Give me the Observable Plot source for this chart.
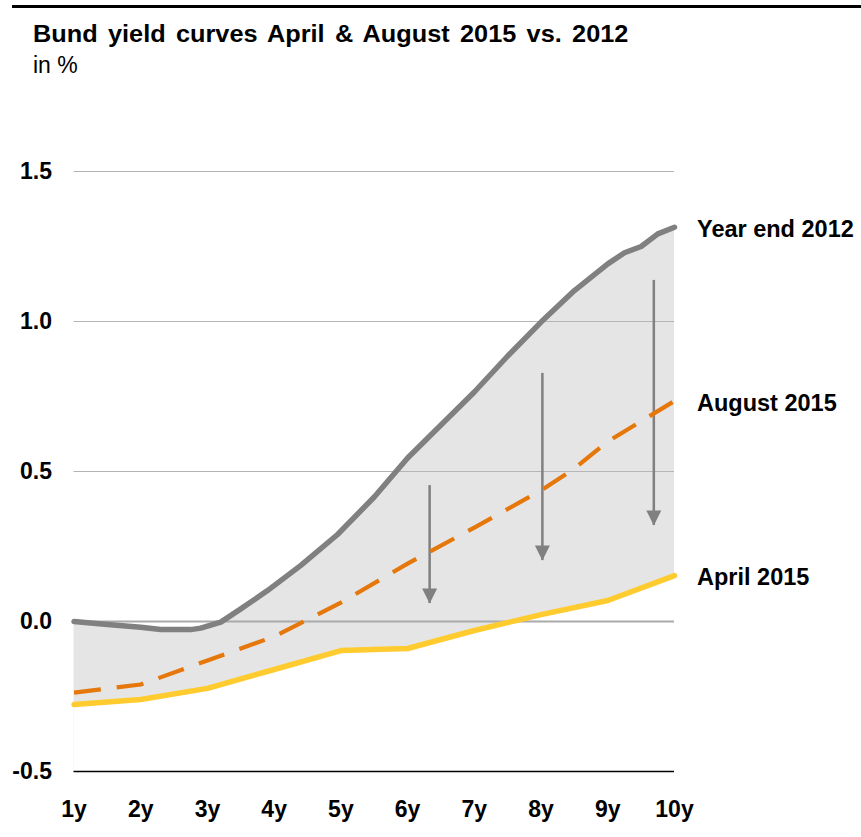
<!DOCTYPE html>
<html>
<head>
<meta charset="utf-8">
<script src="https://cdn.jsdelivr.net/npm/d3@7"></script>
<script src="https://cdn.jsdelivr.net/npm/@observablehq/plot@0.6"></script>
<style>
  body { margin: 0; background: #fff; font-family: "Liberation Sans", Arial, sans-serif; }
  #wrap { position: relative; width: 861px; height: 837px; overflow: hidden; background: #fff; }
  #rule { position: absolute; left: 12px; right: 0; top: 5px; height: 3px; background: #000; }
  #title { position: absolute; left: 33px; top: 23px; font-weight: bold; font-size: 23px; line-height: 23px;
           white-space: nowrap; transform: scaleX(1.1); transform-origin: 0 0; word-spacing: 3px; color: #000; }
  #sub { position: absolute; left: 33px; top: 54px; font-size: 23px; line-height: 23px; color: #000; }
  #chart { position: absolute; left: 0; top: 100px; }
</style>
</head>
<body>
<div id="wrap">
  <div id="rule"></div>
  <div id="title">Bund yield curves April &amp; August 2015 vs. 2012</div>
  <div id="sub">in %</div>
  <div id="chart"></div>
</div>
<script>
// ---- data (maturity in years, yield in %) ----
const maturities2012 = [1, 1.5, 2, 2.3, 2.75, 2.9, 3.2, 3.5, 3.9, 4.4, 4.95, 5.5, 6, 6.5, 7, 7.5, 8, 8.5, 9, 9.25, 9.5, 9.75, 10];
const yields2012     = [0, -0.01, -0.019, -0.027, -0.027, -0.022, -0.002, 0.042, 0.103, 0.187, 0.29, 0.415, 0.545, 0.655, 0.765, 0.885, 0.998, 1.103, 1.192, 1.229, 1.25, 1.292, 1.314];

const maturitiesAug = [1, 2, 3, 4, 5, 6, 7, 8, 8.5, 9, 10];
const yieldsAug     = [-0.237, -0.21, -0.13, -0.05, 0.063, 0.193, 0.313, 0.437, 0.51, 0.6, 0.735];

const maturitiesApr = [1, 2, 3, 4, 5, 6, 7, 8, 9, 10];
const yieldsApr     = [-0.277, -0.26, -0.223, -0.16, -0.097, -0.09, -0.03, 0.023, 0.07, 0.153];

const seriesNames = ["Year end 2012", "August 2015", "April 2015"];

const xTicks = [1, 2, 3, 4, 5, 6, 7, 8, 9, 10];
const xTickLabels = ["1y", "2y", "3y", "4y", "5y", "6y", "7y", "8y", "9y", "10y"];
const yTicks = [-0.5, 0, 0.5, 1, 1.5];
const yTickLabels = ["-0.5", "0.0", "0.5", "1.0", "1.5"];

const arrowX    = [6.33, 8.02, 9.69];
const arrowFrom = [0.453, 0.827, 1.137];
const arrowTo   = [0.06, 0.203, 0.32];

// ---- tables ----
const d2012 = maturities2012.map((m, i) => ({m, v: yields2012[i]}));
const dAug  = maturitiesAug.map((m, i) => ({m, v: yieldsAug[i]}));
const dApr  = maturitiesApr.map((m, i) => ({m, v: yieldsApr[i]}));
const arrows = arrowX.map((x, i) => ({x, from: arrowFrom[i], to: arrowTo[i]}));
const ends = [yields2012.at(-1), yieldsAug.at(-1), yieldsApr.at(-1)];
const labels = seriesNames.map((name, i) => ({name, m: 10, v: ends[i]}));

const arrowHead = {
  draw(ctx, size) {
    const r = Math.sqrt(size / Math.PI);
    ctx.moveTo(-r, -2 * r);
    ctx.lineTo(r, -2 * r);
    ctx.lineTo(0, 0);
    ctx.closePath();
  }
};

const yMin = yTicks[0];

const chart = Plot.plot({
  width: 861,
  height: 737,
  marginLeft: 73.5,
  marginRight: 187,
  marginTop: 71,
  marginBottom: 66,
  style: {fontFamily: "'Liberation Sans', Arial, sans-serif", fontSize: "23px", fontWeight: "bold", color: "#000", background: "#fff"},
  x: {domain: [1, 10], label: null},
  y: {domain: [-0.5, 1.5], label: null},
  marks: [
    Plot.areaY(d2012, {x: "m", y1: yMin, y2: "v", fill: "#e5e5e5"}),
    Plot.areaY(dApr, {x: "m", y1: yMin, y2: "v", fill: "#ffffff"}),
    Plot.ruleY(yTicks.filter(t => t > 0), {stroke: "#b5b5b5", strokeWidth: 1}),
    Plot.ruleY([0], {stroke: "#aaaaaa", strokeWidth: 2}),
    Plot.ruleY([yMin], {stroke: "#000", strokeWidth: 1.5}),
    Plot.ruleX(arrows, {x: "x", y1: "from", y2: "to", stroke: "#808080", strokeWidth: 2.5}),
    Plot.dot(arrows, {x: "x", y: "to", symbol: arrowHead, r: 7.5, fill: "#808080", stroke: "none"}),
    Plot.line(d2012, {x: "m", y: "v", stroke: "#808080", strokeWidth: 5.5, strokeLinecap: "round", strokeLinejoin: "round"}),
    Plot.line(dApr, {x: "m", y: "v", stroke: "#ffcb2f", strokeWidth: 5.5, strokeLinecap: "round", strokeLinejoin: "round"}),
    Plot.line(dAug, {x: "m", y: "v", stroke: "#e5770b", strokeWidth: 4.2, strokeDasharray: "27,16", strokeLinecap: "butt"}),
    Plot.text(labels, {x: "m", y: "v", text: "name", dx: 22.5, dy: 2, textAnchor: "start", fontSize: 23.5, fontWeight: "bold", fill: "#000"}),
    Plot.axisX({ticks: xTicks, tickFormat: d => xTickLabels[xTicks.indexOf(d)], tickSize: 0, tickPadding: 29, fontSize: 23, fontWeight: "bold", label: null}),
    Plot.axisY({ticks: yTicks, tickFormat: d => yTickLabels[yTicks.indexOf(d)], tickSize: 0, tickPadding: 22, fontSize: 23, fontWeight: "bold", label: null})
  ]
});
document.getElementById("chart").appendChild(chart);
</script>
</body>
</html>
